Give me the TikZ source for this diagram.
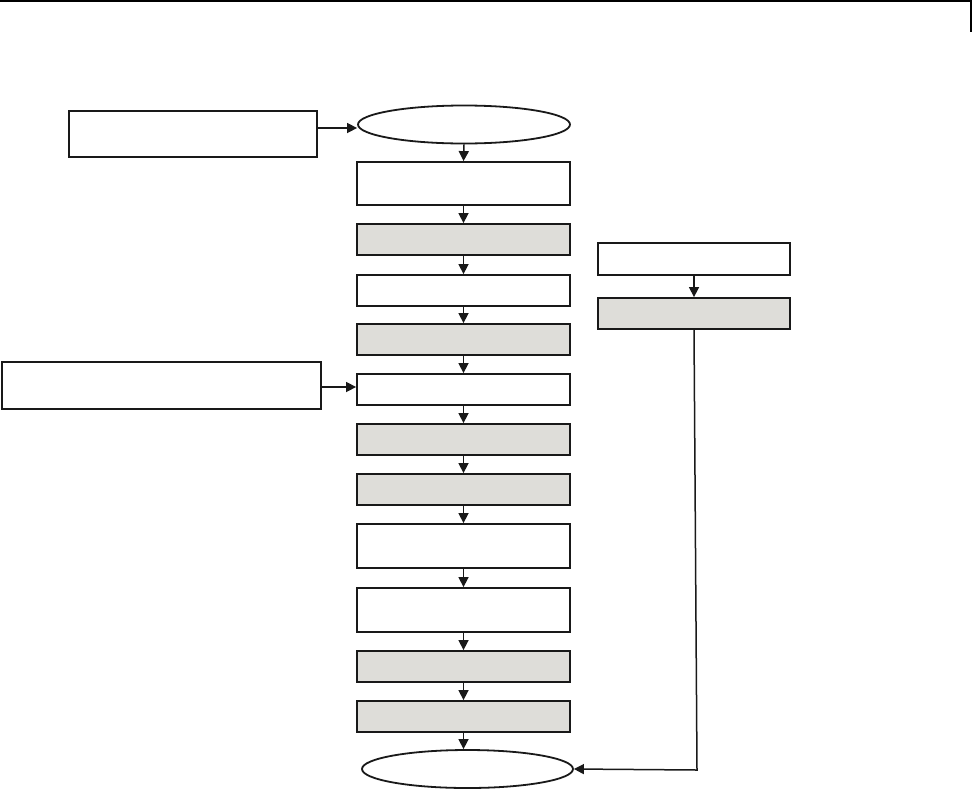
\documentclass[tikz,border=0pt]{standalone}
\usetikzlibrary{arrows.meta,shapes.geometric}
\definecolor{boxgray}{RGB}{222,221,217}
\begin{document}
\begin{tikzpicture}[x=1pt,y=-1pt,
  wbox/.style={draw=black!90, line width=1.8pt, fill=white, rectangle, inner sep=0pt, minimum width=213pt},
  gbox/.style={wbox, fill=boxgray},
  oval/.style={draw=black!90, line width=1.8pt, ellipse, inner sep=0pt, minimum height=38pt},
  arr/.style={draw=black!90, line width=1.5pt, -{Triangle[length=10pt,width=10pt]}}]
\useasboundingbox (0,0) rectangle (973,790);
\draw[line width=1.2pt] (0,1) -- (971,1) -- (971,32);
% main column
\node[oval, minimum width=212pt] (top) at (464,124.5) {};
\node[wbox, minimum height=43pt] (b1) at (463.5,183.5) {};
\node[gbox, minimum height=31pt] (b2) at (463.5,239.5) {};
\node[wbox, minimum height=31pt] (b3) at (463.5,290.5) {};
\node[gbox, minimum height=31pt] (b4) at (463.5,339.5) {};
\node[wbox, minimum height=31pt] (b5) at (463.5,389.5) {};
\node[gbox, minimum height=31pt] (b6) at (463.5,439.5) {};
\node[gbox, minimum height=31pt] (b7) at (463.5,489.5) {};
\node[wbox, minimum height=44pt] (b8) at (463.5,546) {};
\node[wbox, minimum height=44pt] (b9) at (463.5,610) {};
\node[gbox, minimum height=31pt] (b10) at (463.5,666.5) {};
\node[gbox, minimum height=31pt] (b11) at (463.5,716.5) {};
\node[oval, minimum width=211pt] (bot) at (467.5,769) {};
% side boxes
\node[wbox, minimum width=248pt, minimum height=46pt] (A) at (193,134) {};
\node[wbox, minimum width=319pt, minimum height=47pt] (B) at (161.5,385.5) {};
\node[wbox, minimum width=192pt, minimum height=32pt] (R1) at (694,259) {};
\node[gbox, minimum width=192pt, minimum height=31pt] (R2) at (694,313.5) {};
% arrows
\draw[arr] (top.south) -- (b1.north);
\draw[arr] (b1.south) -- (b2.north);
\draw[arr] (b2.south) -- (b3.north);
\draw[arr] (b3.south) -- (b4.north);
\draw[arr] (b4.south) -- (b5.north);
\draw[arr] (b5.south) -- (b6.north);
\draw[arr] (b6.south) -- (b7.north);
\draw[arr] (b7.south) -- (b8.north);
\draw[arr] (b8.south) -- (b9.north);
\draw[arr] (b9.south) -- (b10.north);
\draw[arr] (b10.south) -- (b11.north);
\draw[arr] (b11.south) -- (b11.south |- bot.north);
\draw[arr] ([yshift=6pt]A.east) -- ([yshift=6pt]A.east -| top.west);
\draw[arr] ([yshift=-1.5pt]B.east) -- ([yshift=-1.5pt]B.east -| b5.west);
\draw[arr] (R1.south) -- (R2.north);
\coordinate (corner) at (697,770);
\draw[arr] (R2.south) -- (corner) -- (bot.east);
\end{tikzpicture}
\end{document}
